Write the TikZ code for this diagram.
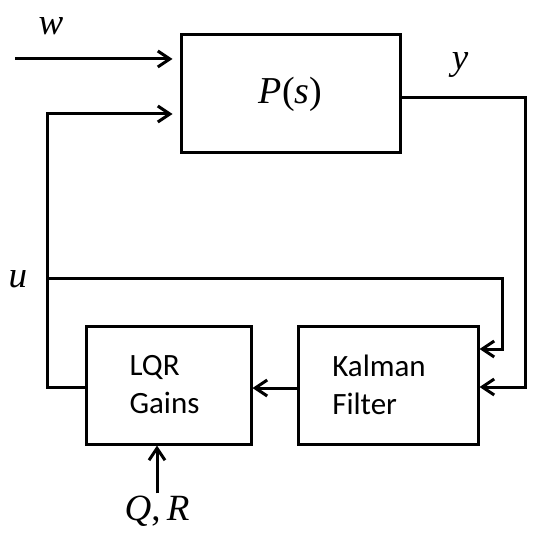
\documentclass[tikz,border=0pt]{standalone}
\usepackage{fontspec}
\setmainfont{Liberation Serif}
\newfontfamily\timesfont{Liberation Serif}
\newfontfamily\boxfont{Carlito}
\usetikzlibrary{arrows.meta,positioning}

\begin{document}
\begin{tikzpicture}[
    x=1pt, y=-1pt,
    node distance=44pt,
    box/.style={
        rectangle, draw=black, line width=3pt,
        align=left, minimum width=165pt, minimum height=118pt,
        inner sep=0pt, font=\boxfont\fontsize{31}{38}\selectfont
    },
    sig/.style={inner sep=0pt, font=\timesfont\fontsize{37}{40}\selectfont\itshape},
    arrow/.style={-{Straight Barb[length=12pt,width=16pt]}, line width=3pt}
]
\useasboundingbox (0,0) rectangle (541,553);

\node[box, minimum width=219pt, font=\timesfont\fontsize{38}{40}\selectfont] (plant) at (290.5,94) {\textit{P}(\textit{s})};
\node[box] (lqr) at (168.5,385) {LQR\\Gains\rule{8pt}{0pt}};
\node[box, minimum width=180pt, right=of lqr] (kalman) {Kalman\rule{18pt}{0pt}\\Filter};

\node[sig] (w) at (51,26) {w};
\node[sig, anchor=base] (y) at (460,70) {y};
\node[sig] (u) at (18,279) {u};
\node[sig, anchor=base] (qr) at (157,520) {Q\upshape,\,\itshape R};

\coordinate (win) at (15,59);
\coordinate (ubranch) at (47,278);

\draw[arrow, shorten >=7pt] (win) -- (win -| plant.west);
\draw[arrow, shorten >=7pt] ([yshift=-2pt]lqr.west) -- ++(-37.5,0) |- ([yshift=-20pt]plant.west);
\draw[arrow] ([yshift=-4pt]plant.east) -- ++(123.5,0) |- ([yshift=-2pt]kalman.east);
\draw[arrow] (ubranch) -- ++(455,0) |- ([yshift=36pt]kalman.east);
\draw[arrow] ([yshift=-3pt]kalman.west) -- ([yshift=-3pt]lqr.east);
\draw[arrow] ([yshift=2pt]qr.north) -- (qr.north |- lqr.south);
\end{tikzpicture}
\end{document}
